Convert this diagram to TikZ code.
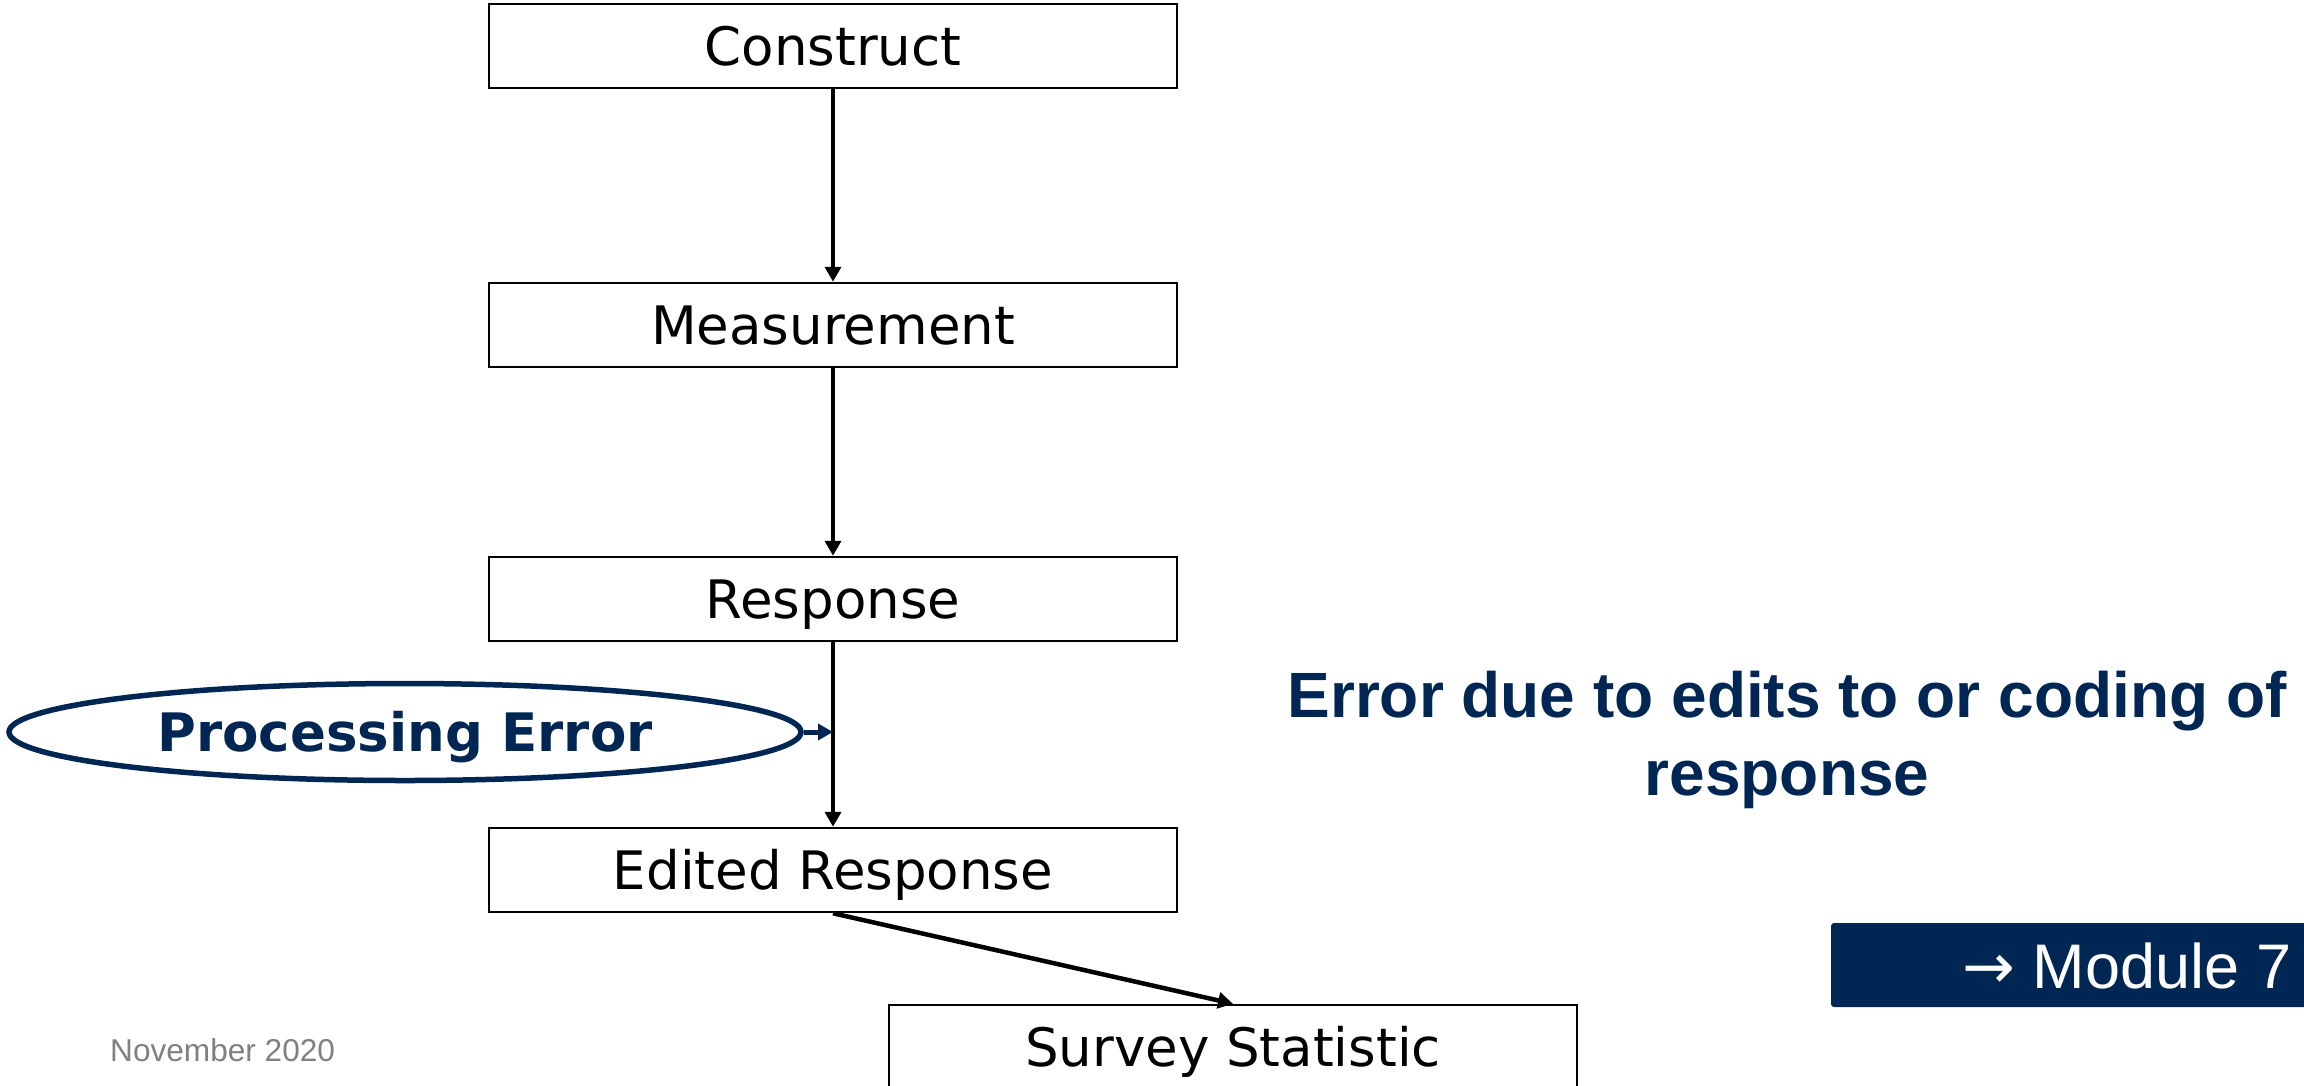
\documentclass[tikz,border=0pt]{standalone}
\usepackage{fontspec}
\setmainfont{Liberation Sans}
\newfontfamily\stagefont{DejaVu Sans}
\usetikzlibrary{shapes.geometric,arrows.meta}
\definecolor{navy}{RGB}{0,38,84}
\definecolor{footgrey}{RGB}{128,128,128}

\begin{document}
\begin{tikzpicture}[x=1pt,y=-1pt,
  stage/.style={draw=black, line width=2.5pt, minimum width=688pt, minimum height=84pt,
    inner sep=0pt, text height=38.5pt, text depth=0pt,
    font=\stagefont\fontsize{53}{60}\selectfont},
  flow/.style={line width=4.5pt, -{Triangle[length=15pt,width=16pt]}},
  errflow/.style={draw=navy, line width=5pt, -{Triangle[length=15pt,width=16pt]}},
  errsource/.style={ellipse, draw=navy, line width=5.5pt, minimum width=792pt,
    minimum height=97pt, inner sep=0pt, text=navy, text height=38.5pt, text depth=0pt,
    font=\stagefont\bfseries\fontsize{53}{60}\selectfont},
  note/.style={text=navy, align=center, font=\bfseries\fontsize{64}{78}\selectfont},
  badge/.style={fill=navy, rounded corners=3pt},
]
\useasboundingbox (0,0) rectangle (2304,1085);

% stages of the measurement side
\node[stage] (c) at (833,46)  {Construct};
\node[stage] (m) at (833,325) {Measurement};
\node[stage] (r) at (833,599) {Response};
\node[stage] (e) at (833,870) {Edited Response};
\node[stage] (s) at (1233,1047) {Survey Statistic};

\draw[flow] (c.south) -- (m.north);
\draw[flow] (m.south) -- (r.north);
\draw[flow] (r.south) -- (e.north);
\draw[flow] (e.south) -- (s.north);

% error source feeding into the response-to-edit step
\node[errsource] (pe) at (405,732) {Processing Error};
\draw[errflow] (pe.east) -- (pe.east -| r.south);

% explanation
\node[note] (txt) at (1787,740) {Error due to edits to or coding of\\response};

% module reference badge
\fill[badge] (1831,923) rectangle (2320,1007);
\node[anchor=east, text=white, font=\fontsize{63}{70}\selectfont, inner sep=0pt]
  (mod) at (2292,966) {{\stagefont\char"2192}\ Module 7};

% footer
\node[anchor=base west, text=footgrey, font=\fontsize{31.6}{36}\selectfont, inner sep=0pt]
  (date) at (110,1061) {November 2020};
\end{tikzpicture}
\end{document}
